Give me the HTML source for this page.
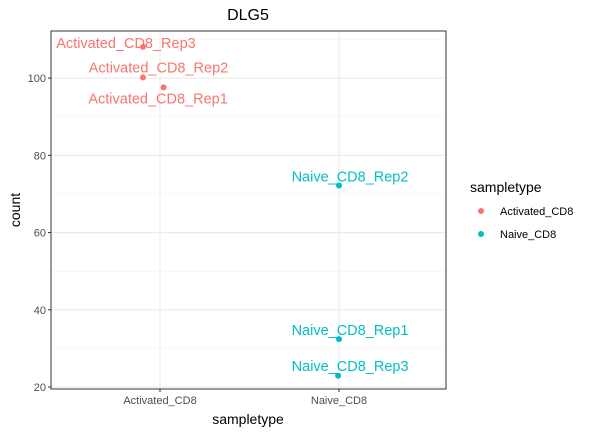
<!DOCTYPE html>
<html><head><meta charset="utf-8"><style>
body{margin:0;background:#fff;}
svg text{font-family:"Liberation Sans",sans-serif;}
</style></head><body>
<svg id="c" width="593" height="434" xmlns="http://www.w3.org/2000/svg"></svg>
<script>
const categories = ["Activated_CD8","Naive_CD8"];
const sampleNames = ["Activated_CD8_Rep3","Activated_CD8_Rep2","Activated_CD8_Rep1","Naive_CD8_Rep2","Naive_CD8_Rep1","Naive_CD8_Rep3"];
const sampleGroup = [0,0,0,1,1,1];
const counts = [108.1,100.2,97.6,72.2,32.4,22.9];
const jitter = [-0.095,-0.095,0.02,0,0,-0.005];
const labelDx = [-17,15.5,-5.5,11,11,12];
const labelDy = [-4,-10,11,-9,-9,-10];
const yTicks = [20,40,60,80,100];
const colors = ["#F8766D","#00BFC4"];

const NS="http://www.w3.org/2000/svg";
const svg=document.getElementById('c');
const L=51,R=446,T=31,B=389;
const yMin=19.48,yMax=112.2;
const ys=v=>B-(v-yMin)/(yMax-yMin)*(B-T);
const xs=c=>160+(c)*(339-160);
function el(tag,attrs,parent){const e=document.createElementNS(NS,tag);for(const k in attrs)e.setAttribute(k,attrs[k]);(parent||svg).appendChild(e);return e;}

const panel=el('rect',{x:L,y:T,width:R-L,height:B-T,fill:'#fff'});


const minorTicks=[30,50,70,90,110];
minorTicks.forEach(m=>{const g=el('line',{x1:L,x2:R,y1:ys(m),y2:ys(m),stroke:'#f2f2f2','stroke-width':0.6});

});
yTicks.forEach(v=>{
 const g=el('line',{x1:L,x2:R,y1:ys(v),y2:ys(v),stroke:'#ebebeb','stroke-width':1.1});
 
 
 const t=el('line',{x1:L-3,x2:L,y1:ys(v),y2:ys(v),stroke:'#333','stroke-width':1});
 
 
 const tx=el('text',{x:L-5,y:ys(v)+4,'text-anchor':'end','font-size':'11',fill:'#4d4d4d'});tx.textContent=v;
 
 
});
categories.forEach((c,i)=>{
 const g=el('line',{x1:xs(i),x2:xs(i),y1:T,y2:B,stroke:'#ebebeb','stroke-width':1.1});
 
 
 const t=el('line',{x1:xs(i),x2:xs(i),y1:B,y2:B+3,stroke:'#333'});
 
 
 const tx=el('text',{x:xs(i),y:B+15,'text-anchor':'middle','font-size':'11',fill:'#4d4d4d'});tx.textContent=c;
 
 
});
const border=el('rect',{x:L,y:T,width:R-L,height:B-T,fill:'none',stroke:'#333','stroke-width':1});



counts.forEach((v,i)=>{
 const col=colors[sampleGroup[i]];
 const px=xs(sampleGroup[i]+jitter[i]),py=ys(v);
 const p=el('circle',{cx:px,cy:py,r:3,fill:col});
 
 
 const t=el('text',{x:px+labelDx[i],y:py+labelDy[i]+5,'text-anchor':'middle','font-size':'14.5',fill:col});t.textContent=sampleNames[i];
 
 
});

const title=el('text',{x:248,y:20,'text-anchor':'middle','font-size':'16',fill:'#000'});title.textContent='DLG5';


const xt=el('text',{x:248,y:424,'text-anchor':'middle','font-size':'14',fill:'#000'});xt.textContent='sampletype';


const yt=el('text',{x:20,y:210,'text-anchor':'middle','font-size':'14',fill:'#000',transform:'rotate(-90 20 210)'});yt.textContent='count';



const lt=el('text',{x:470,y:192,'font-size':'14',fill:'#000'});lt.textContent='sampletype';


categories.forEach((c,i)=>{
 const y=211+i*23;
 const d=el('circle',{cx:481,cy:y,r:3,fill:colors[i]});
 
 
 const t=el('text',{x:500,y:y+4,'font-size':'11',fill:'#000'});t.textContent=c;
 
 
});
</script>
</body></html>
